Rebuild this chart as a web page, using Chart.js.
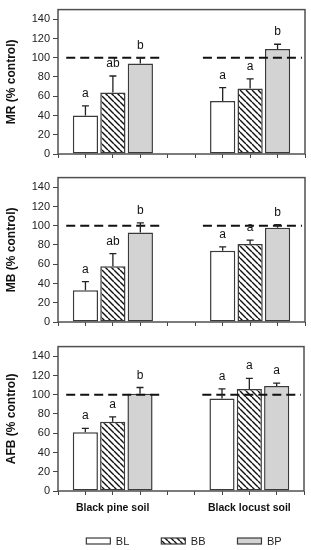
<!DOCTYPE html>
<html><head><meta charset="utf-8">
<script src="https://cdn.jsdelivr.net/npm/chart.js@4"></script>
<style>
html,body{margin:0;padding:0;background:#fff;overflow:hidden;width:311px;height:550px}
.p{position:absolute;left:0;width:311px}
</style></head><body>
<div class="p" style="top:0;height:168px"><canvas id="c1"></canvas></div>
<div class="p" style="top:168px;height:169px"><canvas id="c2"></canvas></div>
<div class="p" style="top:337px;height:213px"><canvas id="c3"></canvas></div>
<script>
// ---- data ----
const soils = ['Black pine soil', 'Black locust soil'];
const treatments = ['BL', 'BB', 'BP'];
const yTicks = [0, 20, 40, 60, 80, 100, 120, 140];
const controlLevel = 100;

// MR (% control): values per soil [Black pine, Black locust]
const mrBL = [40, 55],  mrBLerr = [10, 14], mrBLsig = ['a', 'a'];
const mrBB = [64, 68],  mrBBerr = [17, 10], mrBBsig = ['ab', 'a'];
const mrBP = [94, 109], mrBPerr = [6, 5],   mrBPsig = ['b', 'b'];

// MB (% control)
const mbBL = [33, 74],  mbBLerr = [9, 4],   mbBLsig = ['a', 'a'];
const mbBB = [58, 81],  mbBBerr = [13, 4],  mbBBsig = ['ab', 'a'];
const mbBP = [93, 98],  mbBPerr = [10, 3],  mbBPsig = ['b', 'b'];

// AFB (% control)
const afBL = [61, 96],  afBLerr = [4, 10],  afBLsig = ['a', 'a'];
const afBB = [72, 106], afBBerr = [5, 11],  afBBsig = ['a', 'a'];
const afBP = [101, 109],afBPerr = [6.5, 3], afBPsig = ['b', 'a'];

// ---- styling ----
const FONT = 'Arial, "Liberation Sans", Helvetica, sans-serif';
Chart.defaults.font.family = FONT;

function hatchPattern() {
  const s = 6, c = document.createElement('canvas');
  c.width = s; c.height = s;
  const x = c.getContext('2d');
  x.fillStyle = '#fff'; x.fillRect(0, 0, s, s);
  x.strokeStyle = '#111'; x.lineWidth = 1.4;
  x.beginPath();
  for (const k of [-s, 0, s]) { x.moveTo(k, 0); x.lineTo(k + s, s); }
  x.stroke();
  return x.createPattern(c, 'repeat');
}
const fills = ['#ffffff', hatchPattern(), '#d3d3d3'];
const xTickVals = [0, 1, 2, 3, 4, 5, 6, 7, 8, 9];
const groupCenter = si => si * 5 + 2;
const barX = (si, ti) => si * 5 + ti + 1;
const controlSpans = [[0.3, 3.86], [5.28, 8.89]];

const framePlugin = {
  id: 'frame',
  afterDatasetsDraw(chart) {
    const {ctx, chartArea: a} = chart;
    ctx.save();
    ctx.strokeStyle = '#505050'; ctx.lineWidth = 1.5;
    ctx.strokeRect(a.left, a.top, a.right - a.left, a.bottom - a.top);
    ctx.restore();
  }
};
const errPlugin = {
  id: 'errs',
  afterDatasetsDraw(chart) {
    const ctx = chart.ctx, ys = chart.scales.y;
    chart.data.datasets.forEach((ds, di) => {
      const meta = chart.getDatasetMeta(di);
      meta.data.forEach((bar, i) => {
        const top = ys.getPixelForValue(ds.data[i].y + ds.errors[i]);
        ctx.save();
        ctx.strokeStyle = '#222'; ctx.lineWidth = 1.3;
        ctx.beginPath();
        ctx.moveTo(bar.x, bar.y); ctx.lineTo(bar.x, top);
        ctx.moveTo(bar.x - 3.5, top); ctx.lineTo(bar.x + 3.5, top);
        ctx.stroke();
        ctx.fillStyle = '#111';
        ctx.font = '12px ' + FONT;
        ctx.textAlign = 'center'; ctx.textBaseline = 'alphabetic';
        ctx.fillText(ds.letters[i], bar.x, top - 9);
        ctx.restore();
      });
    });
  }
};
const dashPlugin = {
  id: 'dash',
  afterDatasetsDraw(chart) {
    const ctx = chart.ctx, xs = chart.scales.x, ys = chart.scales.y;
    const y = ys.getPixelForValue(controlLevel);
    ctx.save();
    ctx.strokeStyle = '#111'; ctx.lineWidth = 1.8; ctx.setLineDash([9, 5]);
    controlSpans.forEach(([a, b]) => {
      ctx.beginPath();
      ctx.moveTo(xs.getPixelForValue(a), y);
      ctx.lineTo(xs.getPixelForValue(b), y);
      ctx.stroke();
    });
    ctx.restore();
  }
};
const legendPlugin = {
  id: 'customLegend',
  afterDraw(chart) {
    const ctx = chart.ctx, a = chart.chartArea;
    const fs = 11, bw = 24, bh = 6, gap = 32;
    ctx.save();
    ctx.font = fs + 'px ' + FONT;
    const ds = chart.data.datasets;
    const widths = ds.map(d => bw + fs / 2 + ctx.measureText(d.label).width);
    const total = widths.reduce((p, q) => p + q, 0) + gap * (ds.length - 1);
    let x = (a.left + a.right) / 2 - total / 2 + 3;
    const y = a.bottom + 50;
    ds.forEach((d, i) => {
      ctx.fillStyle = d.backgroundColor;
      ctx.fillRect(x, y - bh / 2, bw, bh);
      ctx.strokeStyle = '#3a3a3a'; ctx.lineWidth = 1.2;
      ctx.strokeRect(x, y - bh / 2, bw, bh);
      ctx.fillStyle = '#222'; ctx.textAlign = 'left'; ctx.textBaseline = 'middle';
      ctx.fillText(d.label, x + bw + fs / 2, y + 0.5);
      x += widths[i] + gap;
    });
    ctx.restore();
  }
};

function makeChart(id, cfg) {
  const datasets = treatments.map((t, ti) => ({
    label: t,
    data: soils.map((s, si) => ({x: barX(si, ti), y: cfg.means[ti][si]})),
    errors: cfg.errs[ti],
    letters: cfg.sig[ti],
    backgroundColor: fills[ti],
    borderColor: '#3a3a3a',
    borderWidth: 1.5,
    borderSkipped: false,
    grouped: false,
    barPercentage: 0.92,
    categoryPercentage: 1
  }));
  const plugins = [dashPlugin, errPlugin, framePlugin];
  if (cfg.legend) plugins.push(legendPlugin);
  return new Chart(document.getElementById(id), {
    type: 'bar',
    data: {datasets},
    plugins,
    options: {
      responsive: true, maintainAspectRatio: false, animation: false, events: [],
      devicePixelRatio: 1,
      layout: {padding: {top: cfg.padTop, right: 6, left: 0, bottom: 0}},
      plugins: {legend: {display: false}, tooltip: {enabled: false}},
      scales: {
        x: {
          type: 'linear', min: 0, max: 9, offset: false,
          grid: {offset: false, drawOnChartArea: false, drawTicks: true, tickLength: 4, color: '#444', lineWidth: 1},
          border: {display: false},
          afterBuildTicks: s => { s.ticks = xTickVals.map(v => ({value: v})); },
          afterFit: s => { s.height = cfg.xH; },
          ticks: {
            display: cfg.showX, autoSkip: false, maxRotation: 0, minRotation: 0, padding: 7,
            font: {size: 10.5, weight: 'bold'}, color: '#111',
            callback: v => { const i = soils.findIndex((s, si) => groupCenter(si) === v); return i >= 0 ? soils[i] : ''; }
          }
        },
        y: {
          min: 0, max: 150,
          afterBuildTicks: s => { s.ticks = yTicks.map(v => ({value: v})); },
          afterFit: s => { s.width = 58; },
          grid: {drawOnChartArea: false, drawTicks: true, tickLength: 5, color: '#444', lineWidth: 1},
          border: {display: false},
          ticks: {font: {size: 11}, color: '#222', padding: 3},
          title: {display: true, text: cfg.title, font: {size: 12, weight: 'bold'}, color: '#111', padding: {top: 4, bottom: 4}}
        }
      }
    }
  });
}

makeChart('c1', {title: 'MR (% control)', means: [mrBL, mrBB, mrBP], errs: [mrBLerr, mrBBerr, mrBPerr], sig: [mrBLsig, mrBBsig, mrBPsig], padTop: 3, xH: 14, showX: false});
makeChart('c2', {title: 'MB (% control)', means: [mbBL, mbBB, mbBP], errs: [mbBLerr, mbBBerr, mbBPerr], sig: [mbBLsig, mbBBsig, mbBPsig], padTop: 4, xH: 15, showX: false});
makeChart('c3', {title: 'AFB (% control)', means: [afBL, afBB, afBP], errs: [afBLerr, afBBerr, afBPerr], sig: [afBLsig, afBBsig, afBPsig], padTop: 4, xH: 59, showX: true, legend: true});
</script>
</body></html>
